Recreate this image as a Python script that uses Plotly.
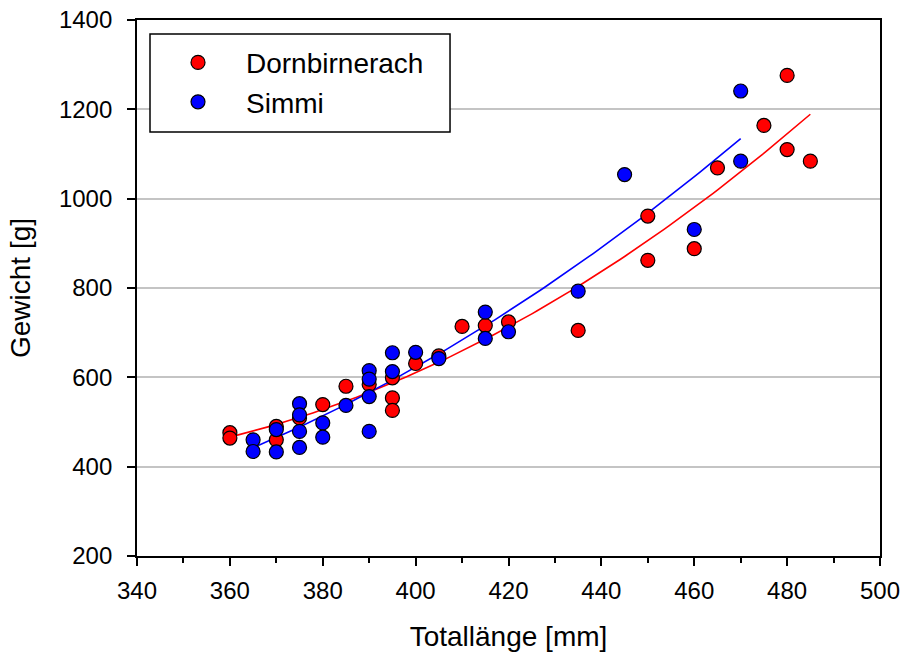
import numpy as np
import plotly.graph_objects as go

# Dornbirnerach (red)
dorn_len = [360, 360, 370, 370, 375, 380, 385, 390, 395, 395, 395, 400, 405,
            410, 415, 420, 435, 450, 450, 460, 465, 475, 480, 480, 485]
dorn_wt = [476, 464, 490, 460, 509, 539, 580, 584, 599, 554, 526, 631, 648,
           714, 716, 724, 705, 961, 862, 888, 1069, 1164, 1276, 1110, 1084]

# Simmi (blue)
simmi_len = [365, 365, 370, 370, 375, 375, 375, 375, 380, 380, 385, 390, 390,
             390, 390, 395, 395, 400, 405, 415, 415, 420, 435, 445, 460, 470, 470]
simmi_wt = [460, 434, 483, 433, 541, 516, 479, 443, 498, 466, 537, 615, 596,
            557, 479, 655, 613, 656, 642, 746, 687, 702, 793, 1054, 931, 1241, 1084]

x_ticks = [340, 360, 380, 400, 420, 440, 460, 480, 500]
y_ticks = [200, 400, 600, 800, 1000, 1200, 1400]

RED = "#ff0000"
BLUE = "#0000ff"


def fit_curve(xs, ys):
    c = np.polyfit(xs, ys, 2)
    xx = np.linspace(min(xs), max(xs), 120)
    return xx, np.polyval(c, xx)


fig = go.Figure()

rx, ry = fit_curve(dorn_len, dorn_wt)
bx, by = fit_curve(simmi_len, simmi_wt)
fig.add_trace(go.Scatter(x=rx, y=ry, mode="lines", line=dict(color=RED, width=1.6),
                         showlegend=False, hoverinfo="skip"))
fig.add_trace(go.Scatter(x=bx, y=by, mode="lines", line=dict(color=BLUE, width=1.6),
                         showlegend=False, hoverinfo="skip"))

fig.add_trace(go.Scatter(x=dorn_len, y=dorn_wt, mode="markers", name="Dornbirnerach",
                         marker=dict(color=RED, size=14, line=dict(color="black", width=1.2))))
fig.add_trace(go.Scatter(x=simmi_len, y=simmi_wt, mode="markers", name="Simmi",
                         marker=dict(color=BLUE, size=14, line=dict(color="black", width=1.2))))

font_family = "Liberation Sans, Arial, sans-serif"

# legend frame (white box with black border) in paper coordinates
fig.add_shape(type="rect", xref="paper", yref="paper",
              x0=0.0175, x1=0.4213, y0=0.791, y1=0.974,
              line=dict(color="black", width=1.5), fillcolor="white", layer="above")

fig.update_layout(
    width=908, height=657,
    margin=dict(l=137, r=28, t=20, b=101),
    paper_bgcolor="white", plot_bgcolor="white",
    font=dict(family=font_family, color="black", size=24),
    legend=dict(x=0.0175, y=0.967, xanchor="left", yanchor="top",
                bgcolor="rgba(0,0,0,0)", borderwidth=0,
                font=dict(size=28, family=font_family), itemwidth=86,
                tracegroupgap=0),
    xaxis=dict(range=[340, 500], tickvals=x_ticks, ticktext=[str(v) for v in x_ticks],
               showgrid=False, zeroline=False, automargin=False,
               showline=True, linecolor="black", linewidth=1.8, mirror=True,
               ticks="outside", ticklen=8, tickwidth=1.5, tickcolor="black",
               minor=dict(dtick=10, ticks="outside", ticklen=5, tickwidth=1.5,
                          tickcolor="black", showgrid=False),
               tickfont=dict(size=24), ticklabelstandoff=4,
               title=dict(text="Totallänge [mm]", font=dict(size=28), standoff=24)),
    yaxis=dict(range=[200, 1400], tickvals=y_ticks, ticktext=[str(v) for v in y_ticks],
               showgrid=True, gridcolor="#c4c4c4", gridwidth=2, zeroline=False,
               automargin=False,
               showline=True, linecolor="black", linewidth=1.8, mirror=True,
               ticks="outside", ticklen=8, tickwidth=1.5, tickcolor="black",
               tickfont=dict(size=24), ticklabelstandoff=10,
               title=dict(text="Gewicht [g]", font=dict(size=28), standoff=20)),
)

fig.write_html("out.html")
